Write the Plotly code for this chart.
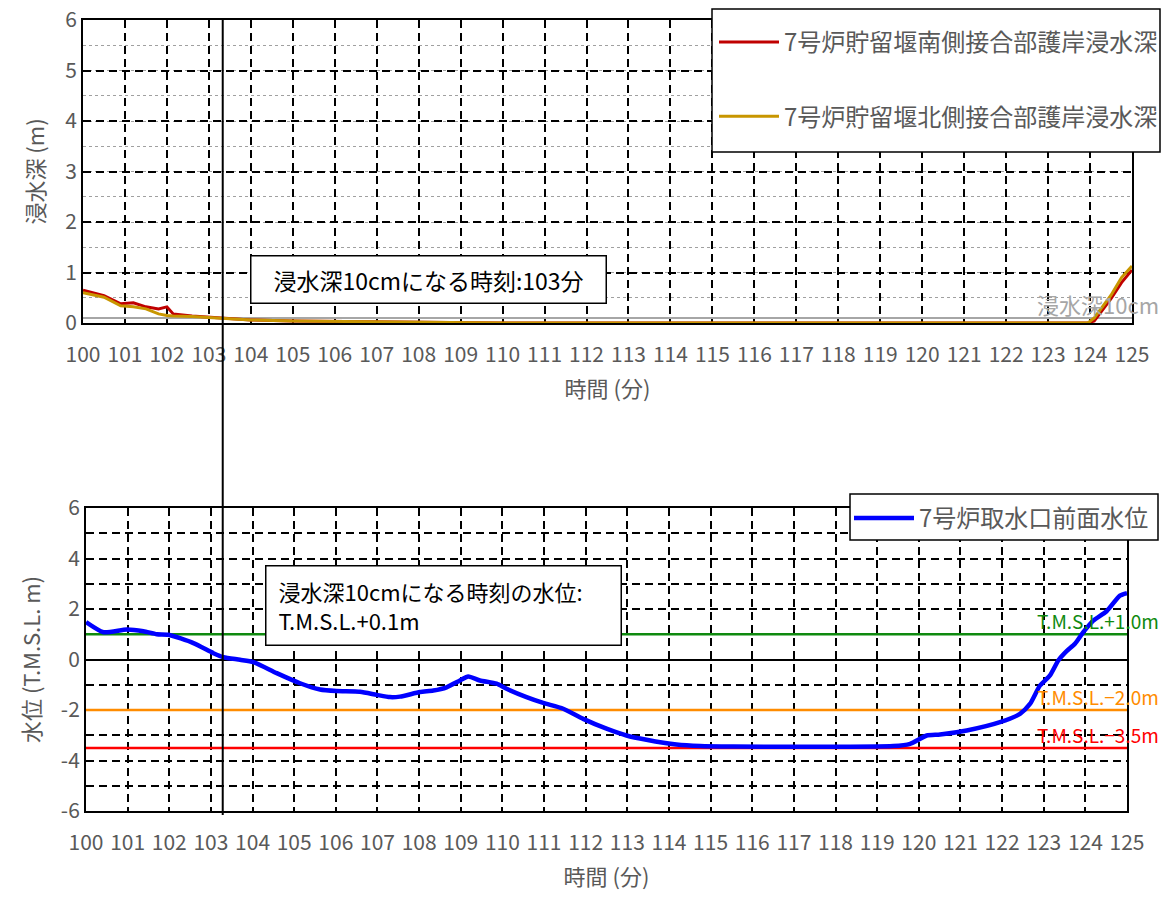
import plotly.graph_objects as go

# ---------------- data ----------------
time_top = [100, 100.5, 100.9, 101.2, 101.5, 101.8, 102.0, 102.15, 102.6, 103.0, 103.35,
            104, 105, 106, 107, 108, 110, 115, 120, 123.95, 124.1, 124.5, 124.75, 125]
south_depth = [0.65, 0.54, 0.38, 0.40, 0.32, 0.28, 0.32, 0.18, 0.14, 0.12, 0.09,
               0.06, 0.04, 0.03, 0.02, 0.01, 0.0, 0.0, 0.0, 0.0, 0.04, 0.48, 0.80, 1.05]
north_depth = [0.60, 0.51, 0.34, 0.32, 0.28, 0.18, 0.15, 0.14, 0.13, 0.11, 0.09,
               0.06, 0.04, 0.03, 0.02, 0.01, 0.0, 0.0, 0.0, 0.0, 0.10, 0.55, 0.90, 1.13]

time_wl = [100, 100.42, 100.98, 101.38, 101.7, 101.98, 102.58, 103.06, 103.3, 103.7, 104.02,
           104.58, 105.14, 105.62, 106.02, 106.58, 106.98, 107.3, 107.54, 108.02, 108.34,
           108.66, 108.98, 109.18, 109.46, 109.86, 110.1, 110.58, 110.98, 111.46, 111.94,
           112.5, 112.98, 113.46, 114.18, 114.75, 115.55, 117.15, 119.39, 119.79, 120.19,
           120.51, 121.15, 121.95, 122.43, 122.67, 122.91, 123.15, 123.35, 123.55, 123.75,
           123.95, 124.19, 124.51, 124.83, 125]
water_level = [1.48, 1.08, 1.19, 1.12, 1.0, 0.98, 0.65, 0.25, 0.09, -0.01, -0.1,
               -0.54, -0.94, -1.19, -1.25, -1.28, -1.4, -1.49, -1.47, -1.29, -1.23,
               -1.1, -0.83, -0.67, -0.83, -0.96, -1.16, -1.49, -1.72, -1.95, -2.35,
               -2.74, -3.01, -3.18, -3.37, -3.43, -3.45, -3.46, -3.43, -3.34, -3.01,
               -2.97, -2.81, -2.48, -2.15, -1.76, -1.03, -0.63, -0.04, 0.33, 0.62,
               1.08, 1.54, 1.91, 2.53, 2.63]

depth_threshold = 0.1
depth_threshold_label = "浸水深10cm"
crossing_time = 103.33
levels = [1.0, -2.0, -3.5]
level_labels = ["T.M.S.L.+1.0m", "T.M.S.L.−2.0m", "T.M.S.L.−3.5m"]
level_colors = ["#0F8A0F", "#FF8C00", "#FF0000"]

x_range = [100, 125]
x_ticks = list(range(100, 126))
depth_ticks = [0, 1, 2, 3, 4, 5, 6]
level_ticks = [-6, -4, -2, 0, 2, 4, 6]
level_ticktext = ["-6", "-4", "-2", "0", "2", "4", "6"]

# ---------------- figure ----------------
W, H = 1172, 900
OFF = 8  # page body margin
FONT = "Noto Sans CJK JP"
GRAY = "#595959"
DASH = "8px,5px"

def px_x(p):
    return (p - OFF) / W

def px_y(p):
    return 1 - (p - OFF) / H

fig = go.Figure()

fig.add_trace(go.Scatter(x=x_range, y=[depth_threshold] * 2, mode="lines",
                         line=dict(color="#A6A6A6", width=2), showlegend=False,
                         xaxis="x", yaxis="y", hoverinfo="skip"))
fig.add_trace(go.Scatter(x=time_top, y=south_depth, mode="lines",
                         name="7号炉貯留堰南側接合部護岸浸水深",
                         line=dict(color="#C00000", width=3),
                         xaxis="x", yaxis="y", legend="legend", legendgroup="a"))
fig.add_trace(go.Scatter(x=time_top, y=north_depth, mode="lines",
                         name="7号炉貯留堰北側接合部護岸浸水深",
                         line=dict(color="#C89600", width=3),
                         xaxis="x", yaxis="y", legend="legend", legendgroup="b"))

for lv, col in zip(levels, level_colors):
    fig.add_trace(go.Scatter(x=x_range, y=[lv] * 2, mode="lines",
                             line=dict(color=col, width=2.5), showlegend=False,
                             xaxis="x2", yaxis="y2", hoverinfo="skip"))
fig.add_trace(go.Scatter(x=time_wl, y=water_level, mode="lines",
                         name="7号炉取水口前面水位",
                         line=dict(color="#0000FF", width=4.5, shape="spline", smoothing=0.6),
                         xaxis="x2", yaxis="y2", legend="legend2"))

grid_major = dict(showgrid=True, gridcolor="black", gridwidth=1.5, griddash=DASH)
tickfont = dict(family=FONT, size=21, color=GRAY)
titlefont = dict(family=FONT, size=22, color=GRAY)

xcommon = dict(range=x_range, tickmode="array", tickvals=x_ticks, ticks="",
               showline=True, linecolor="black", linewidth=2, mirror=True,
               tickfont=tickfont, zeroline=False, automargin=False,
               ticklabelstandoff=12, ticklabeloverflow="allow", **grid_major)

fig.update_layout(
    width=W, height=H, margin=dict(l=0, r=0, t=0, b=0),
    paper_bgcolor="white", plot_bgcolor="white",
    font=dict(family=FONT),
    xaxis=dict(domain=[px_x(83), px_x(1132)], anchor="y",
               title=dict(text="時間 (分)", font=titlefont, standoff=14), **xcommon),
    yaxis=dict(domain=[px_y(323), px_y(20)], anchor="x", range=[0, 6],
               tickmode="array", tickvals=depth_ticks, ticklabeloverflow="allow",
               showline=True, linecolor="black", linewidth=2, mirror=True, ticks="",
               tickfont=tickfont, zeroline=False, automargin=False,
               title=dict(text="浸水深 (m)", font=titlefont, standoff=14),
               minor=dict(dtick=0.5, showgrid=True, gridcolor="#A0A0A0", gridwidth=1,
                          griddash="dot"),
               **grid_major),
    xaxis2=dict(domain=[px_x(86), px_x(1127)], anchor="y2",
                title=dict(text="時間 (分)", font=titlefont, standoff=14), **xcommon),
    yaxis2=dict(domain=[px_y(811), px_y(508)], anchor="x2", range=[-6, 6],
                tickmode="array", tickvals=level_ticks, ticktext=level_ticktext,
                ticklabeloverflow="allow",
                showline=True, linecolor="black", linewidth=2, mirror=True, ticks="",
                tickfont=tickfont, zeroline=True, zerolinecolor="black", zerolinewidth=2,
                automargin=False,
                title=dict(text="水位 (T.M.S.L. m)", font=titlefont, standoff=14),
                minor=dict(dtick=1, showgrid=True, gridcolor="black", gridwidth=1.5,
                           griddash=DASH),
                **grid_major),
    legend=dict(x=px_x(714), y=px_y(20), xanchor="left", yanchor="top",
                bgcolor="rgba(0,0,0,0)", borderwidth=0, itemwidth=60,
                font=dict(family=FONT, size=24, color=GRAY),
                tracegroupgap=40, traceorder="grouped"),
    legend2=dict(x=px_x(849), y=px_y(496), xanchor="left", yanchor="top",
                 bgcolor="rgba(0,0,0,0)", borderwidth=0, itemwidth=60,
                 font=dict(family=FONT, size=24, color=GRAY)),
    showlegend=True,
)

# legend frames
fig.add_shape(type="rect", xref="paper", yref="paper",
              x0=px_x(712), x1=px_x(1160), y0=px_y(152), y1=px_y(9),
              fillcolor="white", line=dict(color="black", width=1.5), layer="above")
fig.add_shape(type="rect", xref="paper", yref="paper",
              x0=px_x(850), x1=px_x(1158), y0=px_y(540), y1=px_y(494),
              fillcolor="white", line=dict(color="black", width=1.5), layer="above")

# vertical line marking the time when depth reaches 10cm
fig.add_shape(type="line", xref="x", yref="paper", x0=crossing_time, x1=crossing_time,
              y0=px_y(815), y1=px_y(20), line=dict(color="black", width=2))

# text boxes
fig.add_annotation(xref="paper", yref="paper", x=px_x(428), y=px_y(279),
                   xanchor="center", yanchor="middle",
                   text="浸水深10cmになる時刻:103分", showarrow=False,
                   font=dict(family=FONT, size=23, color="black"),
                   bgcolor="white", bordercolor="black", borderwidth=1.5,
                   width=350, height=42, borderpad=2)
fig.add_annotation(xref="paper", yref="paper", x=px_x(443), y=px_y(605),
                   xanchor="center", yanchor="middle",
                   text="浸水深10cmになる時刻の水位:<br>T.M.S.L.+0.1m", showarrow=False,
                   align="left",
                   font=dict(family=FONT, size=22, color="black"),
                   bgcolor="white", bordercolor="black", borderwidth=1.5,
                   width=330, height=54, borderpad=12)

# threshold labels
fig.add_annotation(xref="paper", yref="y", x=px_x(1161), y=depth_threshold,
                   xanchor="right", yanchor="bottom", text=depth_threshold_label,
                   showarrow=False, font=dict(family=FONT, size=22, color="#A6A6A6"),
                   yshift=-4)
for lv, lab, col in zip(levels, level_labels, level_colors):
    fig.add_annotation(xref="paper", yref="y2", x=px_x(1161), y=lv,
                       xanchor="right", yanchor="bottom", text=lab, showarrow=False,
                       font=dict(family=FONT, size=19, color=col), yshift=-2)

fig.write_html("out.html")
